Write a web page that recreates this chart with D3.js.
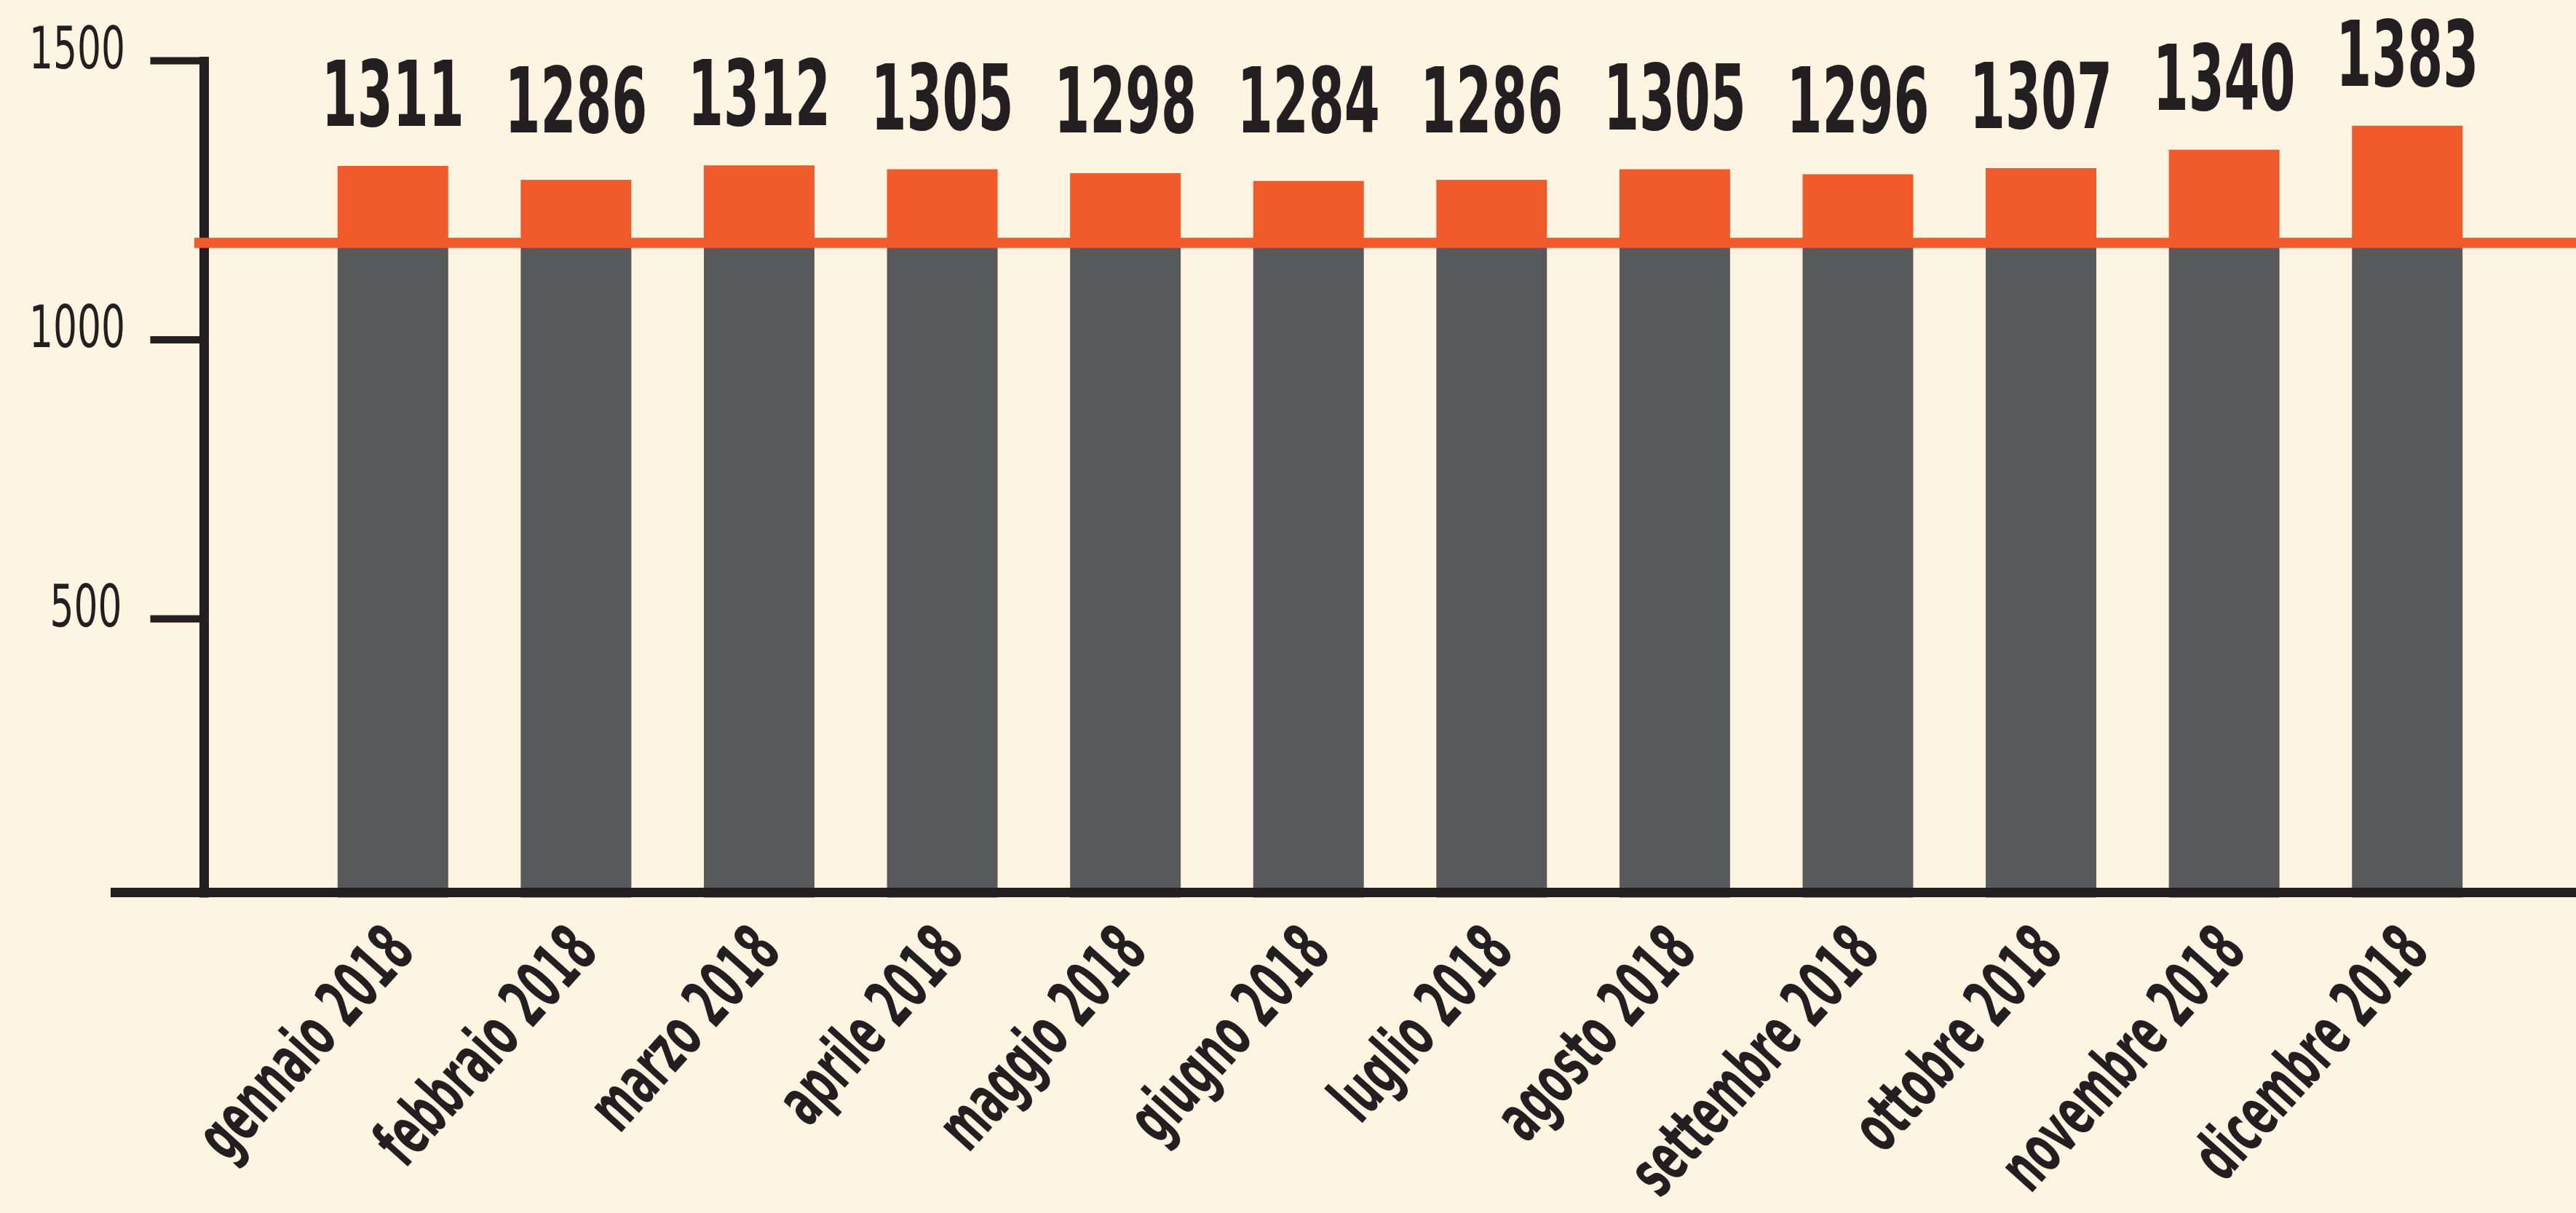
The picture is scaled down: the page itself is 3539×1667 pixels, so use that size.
<!DOCTYPE html>
<html>
<head>
<meta charset="utf-8">
<script src="https://cdn.jsdelivr.net/npm/d3@7/dist/d3.min.js"></script>
<style>
  html, body { margin: 0; padding: 0; background: #fdf5e2; }
  svg { display: block; }
</style>
</head>
<body>
<script>
// ---- data ----
const months = ["gennaio 2018", "febbraio 2018", "marzo 2018", "aprile 2018", "maggio 2018", "giugno 2018",
                "luglio 2018", "agosto 2018", "settembre 2018", "ottobre 2018", "novembre 2018", "dicembre 2018"];
const values = [1311, 1286, 1312, 1305, 1298, 1284, 1286, 1305, 1296, 1307, 1340, 1383];
const referenceValue = 1173;
const yTickValues = [500, 1000, 1500];

// ---- setup ----
const W = 3539, H = 1667;
const BG = "#fdf5e2", ORANGE = "#f15a2b", GREY = "#58595b", INK = "#231f20";

function fontAvailable(name) {
  const c = document.createElement("canvas").getContext("2d");
  const s = "abcdefghijklmnopqrstuvwxyz 0123456789";
  for (const base of ["monospace", "serif"]) {
    c.font = "72px " + base; const a = c.measureText(s).width;
    c.font = '72px "' + name + '", ' + base; const b = c.measureText(s).width;
    if (Math.abs(a - b) > 0.5) return true;
  }
  return false;
}
const candidates = ["Liberation Sans Narrow", "DejaVu Sans Condensed", "Roboto Condensed", "Liberation Sans", "Roboto", "DejaVu Sans"];
const FAMILY = '"' + (candidates.find(fontAvailable) || "sans-serif") + '"';

function digitScale(weight, size, target) {
  const c = document.createElement("canvas").getContext("2d");
  c.font = weight + " " + size + "px " + FAMILY;
  return target / c.measureText("0").width;
}

const svg = d3.select("body").append("svg").attr("width", W).attr("height", H)
  .style("background", BG);

const x = d3.scaleBand().domain(months).range([414, 3433]).paddingInner(0.396).paddingOuter(0.198);
const y = d3.scaleLinear().domain([0, 1500]).range([1233.5, 83]);

// ---- y axis ----
const tickFont = 80, tickK = digitScale(400, tickFont, 33);
const yAxis = svg.append("g").attr("transform", "translate(280.5,0)")
  .call(d3.axisLeft(y).tickValues(yTickValues).tickSize(74).tickSizeOuter(0).tickFormat(d3.format("d")));
yAxis.select(".domain").attr("stroke", INK).attr("stroke-width", 13)
  .attr("d", "M0," + y(0) + "V" + (y(1500) - 5));
yAxis.selectAll(".tick line").attr("stroke", INK).attr("stroke-width", 10);
yAxis.selectAll(".tick text")
  .attr("x", 0).attr("dy", null).attr("y", 0)
  .attr("transform", d => "translate(" + (d === 500 ? -113 : -108.5) + ",10) scale(" + tickK + ",1)")
  .attr("text-anchor", "end")
  .attr("fill", INK)
  .style("font-family", FAMILY).style("font-size", tickFont + "px").style("font-weight", 400);

// ---- bars ----
const bars = svg.append("g");
bars.selectAll("rect.base").data(values).join("rect").attr("class", "base")
  .attr("x", (d, i) => x(months[i])).attr("width", x.bandwidth())
  .attr("y", y(referenceValue)).attr("height", y(0) - y(referenceValue))
  .attr("fill", GREY);
bars.selectAll("rect.top").data(values).join("rect").attr("class", "top")
  .attr("x", (d, i) => x(months[i])).attr("width", x.bandwidth())
  .attr("y", d => y(d)).attr("height", d => y(referenceValue) - y(d))
  .attr("fill", ORANGE);

// ---- x axis ----
let monthFont = 98;
const monthK = digitScale(700, monthFont, 37.3);
const labelDrop = 76;
const xAxis = svg.append("g").attr("transform", "translate(0," + y(0) + ")")
  .call(d3.axisBottom(x).tickSize(0));
xAxis.select(".domain").remove();
svg.append("line").attr("x1", 152).attr("x2", W)
  .attr("y1", y(0) - 7).attr("y2", y(0) - 7)
  .attr("stroke", INK).attr("stroke-width", 13);
const monthText = xAxis.selectAll(".tick text")
  .attr("x", 0).attr("y", 0).attr("dy", null)
  .attr("transform", "translate(33," + labelDrop + ") rotate(-48) scale(" + monthK + ",1)")
  .attr("text-anchor", "end")
  .attr("fill", INK)
  .style("font-family", FAMILY).style("font-size", monthFont + "px").style("font-weight", 700);
// keep the rotated labels inside the picture
{
  const anchorY = y(0) + labelDrop;
  let maxBottom = 0;
  monthText.each(function () { maxBottom = Math.max(maxBottom, this.getBoundingClientRect().bottom); });
  const limit = H - 4;
  if (maxBottom > limit) {
    monthFont = monthFont * (limit - anchorY) / (maxBottom - anchorY);
    monthText.style("font-size", monthFont + "px");
  }
}

// ---- reference line ----
svg.append("line").attr("x1", 267).attr("x2", W)
  .attr("y1", y(referenceValue)).attr("y2", y(referenceValue))
  .attr("stroke", ORANGE).attr("stroke-width", 14);

// ---- value labels ----
const valFont = 124, valK = digitScale(700, valFont, 49);
svg.append("g").selectAll("text").data(values).join("text")
  .attr("transform", (d, i) => "translate(" + (x(months[i]) + x.bandwidth() / 2) + "," +
        Math.min(y(d) - 55, 182) + ") scale(" + valK + ",1)")
  .attr("text-anchor", "middle")
  .attr("fill", INK)
  .style("font-family", FAMILY).style("font-size", valFont + "px").style("font-weight", 700)
  .text(d => d);
</script>
</body>
</html>
